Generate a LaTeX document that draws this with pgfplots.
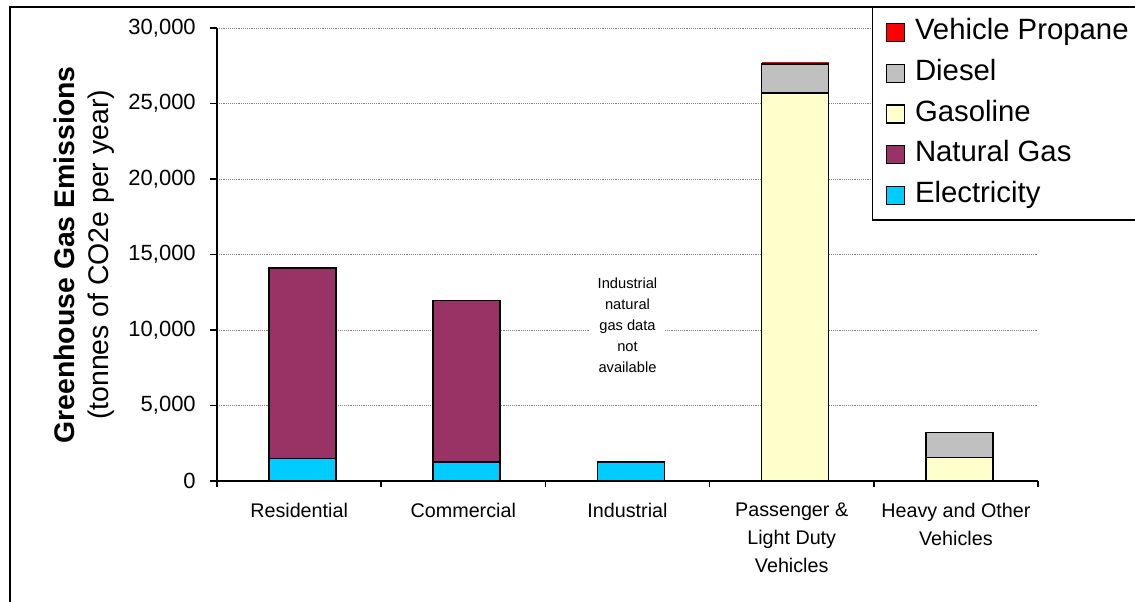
\documentclass[border=0pt]{standalone}
\usepackage{fontspec}
\setmainfont{Liberation Sans}
\usepackage{pgfplots}
\pgfplotsset{compat=1.18}
\definecolor{elec}{HTML}{00CCFF}
\definecolor{ngas}{HTML}{993366}
\definecolor{gaso}{HTML}{FFFFCC}
\definecolor{dies}{HTML}{C0C0C0}
\definecolor{prop}{HTML}{FF0000}
\begin{document}
\begin{tikzpicture}
\useasboundingbox (0,0) rectangle (851.25pt,451.5pt);
\clip (0,0) rectangle (851.25pt,451.5pt);
\draw[line width=1.5pt] (7.5pt,-20pt) rectangle (900pt,446.25pt);
\begin{axis}[
 at={(162.75pt,90.75pt)}, anchor=south west,
 scale only axis, width=615.75pt, height=339.75pt,
 ybar stacked, bar width=50.25pt, bar shift=2.5pt,
 xmin=-0.5, xmax=4.5, ymin=0, ymax=30000,
 axis x line*=bottom, axis y line*=left,
 axis line style={line width=1.2pt, -},
 tick align=outside,
 xtick={0,...,4},
 xticklabels={Residential, Commercial, Industrial, {Passenger \&\\Light Duty\\Vehicles}, {Heavy and Other\\Vehicles}},
 minor xtick={-0.5,0.5,...,4.5},
 major x tick style={draw=none},
 minor x tick style={black, line width=1.2pt},
 minor tick length=4.5pt,
 major tick length=5.25pt,
 ytick={0,5000,...,30000},
 y tick style={black, line width=1.2pt},
 scaled y ticks=false,
 /pgf/number format/.cd, 1000 sep={,}, assume math mode=true, /pgfplots/.cd,
 xticklabel style={font=\fontsize{14.8}{21}\selectfont, align=center, inner sep=0pt, anchor=north, yshift=-11.25pt},
 yticklabel style={font=\fontsize{16.5}{20}\selectfont, inner sep=0pt, anchor=east, xshift=-10.5pt},
 ymajorgrids, grid style={gray, densely dotted, line width=0.6pt},
 ylabel={\textbf{Greenhouse Gas Emissions}\\(tonnes of CO2e per year)},
 ylabel style={font=\fontsize{21.3}{25.5}\selectfont, align=center, at={(axis description cs:-0.162,0.499)}, anchor=center},
 legend style={at={(0.7978,1.0464)}, anchor=north west, draw=black, line width=1pt, fill=white,
   font=\fontsize{22}{26}\selectfont, inner xsep=9.75pt, inner ysep=8.5pt, row sep=10.15pt, column sep=7.5pt,
   nodes={inner sep=0pt, text height=15.75pt, text depth=4.6pt}},
 legend cell align=left, reverse legend,
 legend image code/.code={\draw[draw=black, line width=1pt, #1] (0pt,-6.75pt) rectangle (13.5pt,6.75pt);},
]
\addplot[fill=elec, draw=black, line width=1.2pt] coordinates {(0,1500) (1,1250) (2,1250) (3,0) (4,0)};
\addlegendentry{Electricity}
\addplot[fill=ngas, draw=black, line width=1.2pt] coordinates {(0,12600) (1,10700) (2,0) (3,0) (4,0)};
\addlegendentry{Natural Gas}
\addplot[fill=gaso, draw=black, line width=1.2pt] coordinates {(0,0) (1,0) (2,0) (3,25700) (4,1550)};
\addlegendentry{Gasoline}
\addplot[fill=dies, draw=black, line width=1.2pt] coordinates {(0,0) (1,0) (2,0) (3,1900) (4,1650)};
\addlegendentry{Diesel}
\addplot[fill=prop, draw=none] coordinates {(0,0) (1,0) (2,0) (3,170) (4,0)};
\addlegendentry{Vehicle Propane}
\node[font=\fontsize{11}{15.75}\selectfont, align=center, fill=white, inner xsep=6pt, inner ysep=2pt] at (axis cs:2,10330) {Industrial\\natural\\gas data\\not\\available};
\end{axis}
\end{tikzpicture}
\end{document}
